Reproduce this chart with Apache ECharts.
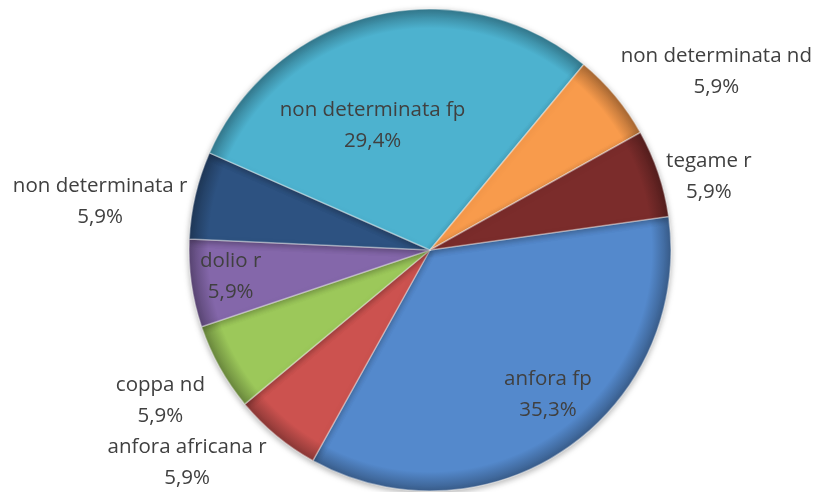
<!DOCTYPE html>
<html>
<head>
<meta charset="utf-8">
<script src="https://cdn.jsdelivr.net/npm/echarts@6/dist/echarts.min.js"></script>
<style>
  html, body { margin: 0; padding: 0; background: #fff; }
  #chart { width: 816px; height: 492px; }
</style>
</head>
<body>
<div id="chart"></div>
<script>
// slice order as drawn, clockwise from the right
const categories = ['anfora fp', 'anfora africana r', 'coppa nd', 'dolio r', 'non determinata r', 'non determinata fp', 'non determinata nd', 'tegame r']
const counts = [6, 1, 1, 1, 1, 5, 1, 1]
const colors = ['#5489cc', '#cc524f', '#9cc85a', '#8467aa', '#2d5281', '#4db2cf', '#f89b4c', '#7b2c2b']
const insideLabels = ['anfora fp', 'dolio r', 'non determinata fp']
// small nudges so labels sit where excel put them
const labelShift = [[48, 43], [-65, 4], [-28, 19], [-77, 9], [-61, 13], [-29, -4], [73, -5], [17, 13]]

const total = counts.reduce((a, b) => a + b, 0)
const cx = 430, cy = 250, R = 241

const chart = echarts.init(document.getElementById('chart'))

// darken a hex colour a bit for the rim
const shade = (hex, k) => {
  const n = parseInt(hex.slice(1), 16)
  const r = Math.round(((n >> 16) & 255) * k)
  const g = Math.round(((n >> 8) & 255) * k)
  const b = Math.round((n & 255) * k)
  return `rgb(${r},${g},${b})`
}

const option = {
  animation: false,
  series: [{
    type: 'pie',
    center: [cx, cy],
    radius: R,
    startAngle: 8,
    clockwise: true,
    avoidLabelOverlap: false,
    label: {
      color: '#404040',
      fontFamily: 'Open Sans',
      fontSize: 20.5,
      lineHeight: 31,
      align: 'center',
      formatter: p => p.name + '\n' + (p.value / total * 100).toFixed(1).replace('.', ',') + '%'
    },
    labelLine: { show: false, length: 30, length2: 0 },
    labelLayout: p => ({
      align: 'center',
      verticalAlign: 'middle',
      dx: labelShift[p.dataIndex][0],
      dy: labelShift[p.dataIndex][1]
    }),
    itemStyle: {
      borderColor: 'rgba(255,255,255,0.4)',
      borderWidth: 1.5,
      shadowBlur: 6,
      shadowOffsetY: 2,
      shadowColor: 'rgba(0,0,0,0.3)'
    },
    data: categories.map((name, i) => ({
      name,
      value: counts[i],
      label: { position: insideLabels.includes(name) ? 'inside' : 'outside' },
      itemStyle: {
        color: new echarts.graphic.RadialGradient(cx, cy, R, [
          { offset: 0, color: colors[i] },
          { offset: 0.92, color: colors[i] },
          { offset: 1, color: shade(colors[i], 0.68) }
        ], true)
      }
    }))
  }]
}

chart.setOption(option)
</script>
</body>
</html>
